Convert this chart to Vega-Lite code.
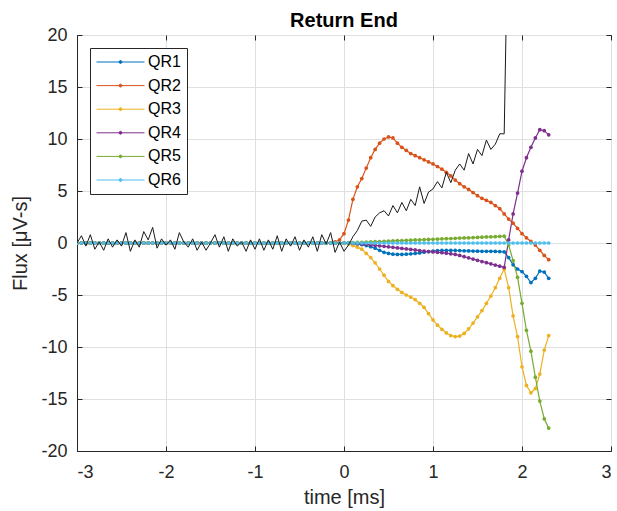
{
  "$schema": "https://vega.github.io/schema/vega-lite/v6.json",
  "width": 534,
  "height": 416,
  "autosize": {"type": "none"},
  "padding": {"left": 77, "top": 35, "right": 6, "bottom": 60},
  "background": "white",
  "title": {"text": "Return End", "fontSize": 20, "fontWeight": "bold", "font": "Liberation Sans", "color": "#000000", "offset": 0, "dy": 21, "baseline": "alphabetic"},
  "data": {"values": [
    {"t": -3.00, "QR1": 0, "QR2": 0, "QR3": 0, "QR4": 0, "QR5": 0, "QR6": 0, "ref": 0.0},
    {"t": -2.95, "QR1": 0, "QR2": 0, "QR3": 0, "QR4": 0, "QR5": 0, "QR6": 0, "ref": 0.7},
    {"t": -2.90, "QR1": 0, "QR2": 0, "QR3": 0, "QR4": 0, "QR5": 0, "QR6": 0, "ref": -0.3},
    {"t": -2.85, "QR1": 0, "QR2": 0, "QR3": 0, "QR4": 0, "QR5": 0, "QR6": 0, "ref": 0.8},
    {"t": -2.80, "QR1": 0, "QR2": 0, "QR3": 0, "QR4": 0, "QR5": 0, "QR6": 0, "ref": -0.6},
    {"t": -2.75, "QR1": 0, "QR2": 0, "QR3": 0, "QR4": 0, "QR5": 0, "QR6": 0, "ref": 0.1},
    {"t": -2.70, "QR1": 0, "QR2": 0, "QR3": 0, "QR4": 0, "QR5": 0, "QR6": 0, "ref": -0.7},
    {"t": -2.65, "QR1": 0, "QR2": 0, "QR3": 0, "QR4": 0, "QR5": 0, "QR6": 0, "ref": 0.4},
    {"t": -2.60, "QR1": 0, "QR2": 0, "QR3": 0, "QR4": 0, "QR5": 0, "QR6": 0, "ref": -0.4},
    {"t": -2.55, "QR1": 0, "QR2": 0, "QR3": 0, "QR4": 0, "QR5": 0, "QR6": 0, "ref": 0.3},
    {"t": -2.50, "QR1": 0, "QR2": 0, "QR3": 0, "QR4": 0, "QR5": 0, "QR6": 0, "ref": -0.3},
    {"t": -2.45, "QR1": 0, "QR2": 0, "QR3": 0, "QR4": 0, "QR5": 0, "QR6": 0, "ref": 1.0},
    {"t": -2.40, "QR1": 0, "QR2": 0, "QR3": 0, "QR4": 0, "QR5": 0, "QR6": 0, "ref": -0.8},
    {"t": -2.35, "QR1": 0, "QR2": 0, "QR3": 0, "QR4": 0, "QR5": 0, "QR6": 0, "ref": 0.3},
    {"t": -2.30, "QR1": 0, "QR2": 0, "QR3": 0, "QR4": 0, "QR5": 0, "QR6": 0, "ref": -0.4},
    {"t": -2.25, "QR1": 0, "QR2": 0, "QR3": 0, "QR4": 0, "QR5": 0, "QR6": 0, "ref": 1.1},
    {"t": -2.20, "QR1": 0, "QR2": 0, "QR3": 0, "QR4": 0, "QR5": 0, "QR6": 0, "ref": 0.3},
    {"t": -2.15, "QR1": 0, "QR2": 0, "QR3": 0, "QR4": 0, "QR5": 0, "QR6": 0, "ref": 1.5},
    {"t": -2.10, "QR1": 0, "QR2": 0, "QR3": 0, "QR4": 0, "QR5": 0, "QR6": 0, "ref": -0.5},
    {"t": -2.05, "QR1": 0, "QR2": 0, "QR3": 0, "QR4": 0, "QR5": 0, "QR6": 0, "ref": 0.4},
    {"t": -2.00, "QR1": 0, "QR2": 0, "QR3": 0, "QR4": 0, "QR5": 0, "QR6": 0, "ref": -0.2},
    {"t": -1.95, "QR1": 0, "QR2": 0, "QR3": 0, "QR4": 0, "QR5": 0, "QR6": 0, "ref": 0.3},
    {"t": -1.90, "QR1": 0, "QR2": 0, "QR3": 0, "QR4": 0, "QR5": 0, "QR6": 0, "ref": -0.6},
    {"t": -1.85, "QR1": 0, "QR2": 0, "QR3": 0, "QR4": 0, "QR5": 0, "QR6": 0, "ref": 1.0},
    {"t": -1.80, "QR1": 0, "QR2": 0, "QR3": 0, "QR4": 0, "QR5": 0, "QR6": 0, "ref": 0.1},
    {"t": -1.75, "QR1": 0, "QR2": 0, "QR3": 0, "QR4": 0, "QR5": 0, "QR6": 0, "ref": -0.4},
    {"t": -1.70, "QR1": 0, "QR2": 0, "QR3": 0, "QR4": 0, "QR5": 0, "QR6": 0, "ref": 0.4},
    {"t": -1.65, "QR1": 0, "QR2": 0, "QR3": 0, "QR4": 0, "QR5": 0, "QR6": 0, "ref": -0.7},
    {"t": -1.60, "QR1": 0, "QR2": 0, "QR3": 0, "QR4": 0, "QR5": 0, "QR6": 0, "ref": 0.1},
    {"t": -1.55, "QR1": 0, "QR2": 0, "QR3": 0, "QR4": 0, "QR5": 0, "QR6": 0, "ref": -0.7},
    {"t": -1.50, "QR1": 0, "QR2": 0, "QR3": 0, "QR4": 0, "QR5": 0, "QR6": 0, "ref": 0.0},
    {"t": -1.45, "QR1": 0, "QR2": 0, "QR3": 0, "QR4": 0, "QR5": 0, "QR6": 0, "ref": 0.8},
    {"t": -1.40, "QR1": 0, "QR2": 0, "QR3": 0, "QR4": 0, "QR5": 0, "QR6": 0, "ref": -0.4},
    {"t": -1.35, "QR1": 0, "QR2": 0, "QR3": 0, "QR4": 0, "QR5": 0, "QR6": 0, "ref": 0.6},
    {"t": -1.30, "QR1": 0, "QR2": 0, "QR3": 0, "QR4": 0, "QR5": 0, "QR6": 0, "ref": -0.8},
    {"t": -1.25, "QR1": 0, "QR2": 0, "QR3": 0, "QR4": 0, "QR5": 0, "QR6": 0, "ref": 0.4},
    {"t": -1.20, "QR1": 0, "QR2": 0, "QR3": 0, "QR4": 0, "QR5": 0, "QR6": 0, "ref": -0.3},
    {"t": -1.15, "QR1": 0, "QR2": 0, "QR3": 0, "QR4": 0, "QR5": 0, "QR6": 0, "ref": 0.1},
    {"t": -1.10, "QR1": 0, "QR2": 0, "QR3": 0, "QR4": 0, "QR5": 0, "QR6": 0, "ref": -0.8},
    {"t": -1.05, "QR1": 0, "QR2": 0, "QR3": 0, "QR4": 0, "QR5": 0, "QR6": 0, "ref": 0.3},
    {"t": -1.00, "QR1": 0, "QR2": 0, "QR3": 0, "QR4": 0, "QR5": 0, "QR6": 0, "ref": -0.6},
    {"t": -0.95, "QR1": 0, "QR2": 0, "QR3": 0, "QR4": 0, "QR5": 0, "QR6": 0, "ref": 0.4},
    {"t": -0.90, "QR1": 0, "QR2": 0, "QR3": 0, "QR4": 0, "QR5": 0, "QR6": 0, "ref": -0.7},
    {"t": -0.85, "QR1": 0, "QR2": 0, "QR3": 0, "QR4": 0, "QR5": 0, "QR6": 0, "ref": 0.3},
    {"t": -0.80, "QR1": 0, "QR2": 0, "QR3": 0, "QR4": 0, "QR5": 0, "QR6": 0, "ref": -0.6},
    {"t": -0.75, "QR1": 0, "QR2": 0, "QR3": 0, "QR4": 0, "QR5": 0, "QR6": 0, "ref": 0.7},
    {"t": -0.70, "QR1": 0, "QR2": 0, "QR3": 0, "QR4": 0, "QR5": 0, "QR6": 0, "ref": -0.8},
    {"t": -0.65, "QR1": 0, "QR2": 0, "QR3": 0, "QR4": 0, "QR5": 0, "QR6": 0, "ref": 0.4},
    {"t": -0.60, "QR1": 0, "QR2": 0, "QR3": 0, "QR4": 0, "QR5": 0, "QR6": 0, "ref": -0.3},
    {"t": -0.55, "QR1": 0, "QR2": 0, "QR3": 0, "QR4": 0, "QR5": 0, "QR6": 0, "ref": 0.6},
    {"t": -0.50, "QR1": 0, "QR2": 0, "QR3": 0, "QR4": 0, "QR5": 0, "QR6": 0, "ref": -0.7},
    {"t": -0.45, "QR1": 0, "QR2": 0, "QR3": 0, "QR4": 0, "QR5": 0, "QR6": 0, "ref": 0.3},
    {"t": -0.40, "QR1": 0, "QR2": 0, "QR3": 0, "QR4": 0, "QR5": 0, "QR6": 0, "ref": -0.4},
    {"t": -0.35, "QR1": 0, "QR2": 0, "QR3": 0, "QR4": 0, "QR5": 0, "QR6": 0, "ref": 0.6},
    {"t": -0.30, "QR1": 0, "QR2": 0, "QR3": 0, "QR4": 0, "QR5": 0, "QR6": 0, "ref": -0.8},
    {"t": -0.25, "QR1": 0, "QR2": 0, "QR3": 0, "QR4": 0, "QR5": 0, "QR6": 0, "ref": 0.8},
    {"t": -0.20, "QR1": 0, "QR2": 0, "QR3": 0, "QR4": 0, "QR5": 0, "QR6": 0, "ref": -0.1},
    {"t": -0.15, "QR1": 0, "QR2": 0, "QR3": 0, "QR4": 0, "QR5": 0, "QR6": 0, "ref": 1.0},
    {"t": -0.10, "QR1": 0, "QR2": 0.1, "QR3": 0, "QR4": 0, "QR5": 0, "QR6": 0, "ref": -0.9},
    {"t": -0.05, "QR1": 0, "QR2": 0.3, "QR3": 0, "QR4": 0, "QR5": 0, "QR6": 0, "ref": 0.1},
    {"t": 0.00, "QR1": 0, "QR2": 0.9, "QR3": 0, "QR4": 0, "QR5": 0, "QR6": 0, "ref": -0.8},
    {"t": 0.05, "QR1": -0.02, "QR2": 2.2, "QR3": -0.1, "QR4": 0, "QR5": 0.02, "QR6": 0, "ref": -0.2},
    {"t": 0.10, "QR1": -0.05, "QR2": 4.2, "QR3": -0.25, "QR4": -0.02, "QR5": 0.04, "QR6": 0, "ref": 0.6},
    {"t": 0.15, "QR1": -0.1, "QR2": 5.4, "QR3": -0.4, "QR4": -0.05, "QR5": 0.05, "QR6": 0, "ref": 1.2},
    {"t": 0.20, "QR1": -0.15, "QR2": 6.2, "QR3": -0.6, "QR4": -0.1, "QR5": 0.07, "QR6": 0, "ref": 2.1},
    {"t": 0.25, "QR1": -0.25, "QR2": 7.2, "QR3": -1.0, "QR4": -0.14, "QR5": 0.09, "QR6": 0, "ref": 2.2},
    {"t": 0.30, "QR1": -0.35, "QR2": 8.2, "QR3": -1.4, "QR4": -0.18, "QR5": 0.11, "QR6": 0, "ref": 1.6},
    {"t": 0.35, "QR1": -0.5, "QR2": 9.0, "QR3": -1.9, "QR4": -0.22, "QR5": 0.13, "QR6": 0, "ref": 2.5},
    {"t": 0.40, "QR1": -0.7, "QR2": 9.6, "QR3": -2.5, "QR4": -0.27, "QR5": 0.14, "QR6": 0, "ref": 2.9},
    {"t": 0.45, "QR1": -0.9, "QR2": 10.0, "QR3": -3.1, "QR4": -0.32, "QR5": 0.16, "QR6": 0, "ref": 3.1},
    {"t": 0.50, "QR1": -1.0, "QR2": 10.2, "QR3": -3.7, "QR4": -0.37, "QR5": 0.18, "QR6": 0, "ref": 2.6},
    {"t": 0.55, "QR1": -1.07, "QR2": 10.1, "QR3": -4.1, "QR4": -0.42, "QR5": 0.2, "QR6": 0, "ref": 3.6},
    {"t": 0.60, "QR1": -1.1, "QR2": 9.6, "QR3": -4.45, "QR4": -0.47, "QR5": 0.22, "QR6": 0, "ref": 2.9},
    {"t": 0.65, "QR1": -1.1, "QR2": 9.2, "QR3": -4.75, "QR4": -0.52, "QR5": 0.23, "QR6": 0, "ref": 3.9},
    {"t": 0.70, "QR1": -1.08, "QR2": 8.9, "QR3": -5.0, "QR4": -0.57, "QR5": 0.25, "QR6": 0, "ref": 3.1},
    {"t": 0.75, "QR1": -1.04, "QR2": 8.6, "QR3": -5.2, "QR4": -0.62, "QR5": 0.27, "QR6": 0, "ref": 4.2},
    {"t": 0.80, "QR1": -1.0, "QR2": 8.4, "QR3": -5.45, "QR4": -0.67, "QR5": 0.29, "QR6": 0, "ref": 3.6},
    {"t": 0.85, "QR1": -0.95, "QR2": 8.2, "QR3": -5.8, "QR4": -0.73, "QR5": 0.31, "QR6": 0, "ref": 5.4},
    {"t": 0.90, "QR1": -0.88, "QR2": 8.0, "QR3": -6.2, "QR4": -0.78, "QR5": 0.32, "QR6": 0, "ref": 3.8},
    {"t": 0.95, "QR1": -0.82, "QR2": 7.8, "QR3": -6.8, "QR4": -0.82, "QR5": 0.34, "QR6": 0, "ref": 4.9},
    {"t": 1.00, "QR1": -0.78, "QR2": 7.6, "QR3": -7.4, "QR4": -0.86, "QR5": 0.36, "QR6": 0, "ref": 5.2},
    {"t": 1.05, "QR1": -0.74, "QR2": 7.35, "QR3": -7.9, "QR4": -0.89, "QR5": 0.38, "QR6": 0, "ref": 5.9},
    {"t": 1.10, "QR1": -0.72, "QR2": 7.1, "QR3": -8.3, "QR4": -0.93, "QR5": 0.4, "QR6": 0, "ref": 5.3},
    {"t": 1.15, "QR1": -0.71, "QR2": 6.8, "QR3": -8.65, "QR4": -0.98, "QR5": 0.41, "QR6": 0, "ref": 6.8},
    {"t": 1.20, "QR1": -0.71, "QR2": 6.45, "QR3": -8.9, "QR4": -1.04, "QR5": 0.43, "QR6": 0, "ref": 5.8},
    {"t": 1.25, "QR1": -0.72, "QR2": 6.05, "QR3": -9.0, "QR4": -1.1, "QR5": 0.45, "QR6": 0, "ref": 7.0},
    {"t": 1.30, "QR1": -0.73, "QR2": 5.7, "QR3": -8.95, "QR4": -1.2, "QR5": 0.47, "QR6": 0, "ref": 7.6},
    {"t": 1.35, "QR1": -0.75, "QR2": 5.4, "QR3": -8.7, "QR4": -1.32, "QR5": 0.49, "QR6": 0, "ref": 7.0},
    {"t": 1.40, "QR1": -0.76, "QR2": 5.15, "QR3": -8.25, "QR4": -1.43, "QR5": 0.5, "QR6": 0, "ref": 8.6},
    {"t": 1.45, "QR1": -0.78, "QR2": 4.85, "QR3": -7.7, "QR4": -1.55, "QR5": 0.52, "QR6": 0, "ref": 7.6},
    {"t": 1.50, "QR1": -0.79, "QR2": 4.55, "QR3": -7.1, "QR4": -1.66, "QR5": 0.54, "QR6": 0, "ref": 9.0},
    {"t": 1.55, "QR1": -0.8, "QR2": 4.3, "QR3": -6.5, "QR4": -1.78, "QR5": 0.56, "QR6": 0, "ref": 8.4},
    {"t": 1.60, "QR1": -0.8, "QR2": 4.1, "QR3": -5.8, "QR4": -1.89, "QR5": 0.58, "QR6": 0, "ref": 9.9},
    {"t": 1.65, "QR1": -0.8, "QR2": 3.9, "QR3": -5.1, "QR4": -2.0, "QR5": 0.59, "QR6": 0, "ref": 9.0},
    {"t": 1.70, "QR1": -0.81, "QR2": 3.6, "QR3": -4.3, "QR4": -2.12, "QR5": 0.61, "QR6": 0, "ref": 9.5},
    {"t": 1.75, "QR1": -0.82, "QR2": 3.3, "QR3": -3.4, "QR4": -2.23, "QR5": 0.63, "QR6": 0, "ref": 10.5},
    {"t": 1.80, "QR1": -0.85, "QR2": 2.8, "QR3": -2.5, "QR4": -2.35, "QR5": 0.65, "QR6": 0, "ref": 10.5},
    {"t": 1.82, "ref": 20.3},
    {"t": 1.85, "QR1": -1.4, "QR2": 2.3, "QR3": -4.3, "QR4": 0.3, "QR5": -0.2, "QR6": 0},
    {"t": 1.90, "QR1": -2.1, "QR2": 1.9, "QR3": -7.0, "QR4": 2.8, "QR5": -1.7, "QR6": 0},
    {"t": 1.95, "QR1": -2.5, "QR2": 1.4, "QR3": -9.0, "QR4": 4.8, "QR5": -3.3, "QR6": 0},
    {"t": 2.00, "QR1": -2.75, "QR2": 0.9, "QR3": -11.9, "QR4": 6.9, "QR5": -5.8, "QR6": 0},
    {"t": 2.05, "QR1": -3.2, "QR2": 0.5, "QR3": -13.7, "QR4": 8.2, "QR5": -8.4, "QR6": 0},
    {"t": 2.10, "QR1": -3.8, "QR2": 0.15, "QR3": -14.4, "QR4": 9.2, "QR5": -10.4, "QR6": 0},
    {"t": 2.15, "QR1": -3.4, "QR2": -0.2, "QR3": -14.0, "QR4": 10.1, "QR5": -12.9, "QR6": 0},
    {"t": 2.20, "QR1": -2.7, "QR2": -0.7, "QR3": -12.6, "QR4": 10.9, "QR5": -15.2, "QR6": 0},
    {"t": 2.25, "QR1": -2.8, "QR2": -1.2, "QR3": -10.3, "QR4": 10.8, "QR5": -16.9, "QR6": 0},
    {"t": 2.30, "QR1": -3.4, "QR2": -1.6, "QR3": -8.9, "QR4": 10.4, "QR5": -17.8, "QR6": 0}
  ]},
  "config": {
    "view": {"stroke": "#262626", "strokeWidth": 1},
    "axis": {
      "grid": true,
      "gridColor": "#dfdfdf",
      "gridWidth": 1,
      "domainColor": "#262626",
      "tickColor": "#262626",
      "labelColor": "#262626",
      "titleColor": "#262626",
      "labelFont": "Liberation Sans",
      "titleFont": "Liberation Sans",
      "labelFontSize": 18,
      "titleFontSize": 20,
      "titleFontWeight": "normal",
      "tickSize": -5
    }
  },
  "layer": [
    {
      "transform": [
        {"fold": ["QR1", "QR2", "QR3", "QR4", "QR5", "QR6"], "as": ["series", "value"]},
        {"filter": "isValid(datum.value)"}
      ],
      "mark": {"type": "line", "strokeWidth": 1.2, "clip": true, "point": {"filled": true, "size": 14}},
      "encoding": {
        "x": {
          "field": "t", "type": "quantitative",
          "scale": {"domain": [-3, 3], "nice": false, "zero": false},
          "axis": {"orient": "bottom", "values": [-3, -2, -1, 0, 1, 2, 3], "labelExpr": "'' + datum.value", "title": "time [ms]", "labelPadding": 17, "titlePadding": 6}
        },
        "y": {
          "field": "value", "type": "quantitative",
          "scale": {"domain": [-20, 20], "nice": false, "zero": false},
          "axis": {"orient": "left", "values": [-20, -15, -10, -5, 0, 5, 10, 15, 20], "labelExpr": "'' + datum.value", "title": "Flux [μV-s]", "labelPadding": 15, "titlePadding": 10}
        },
        "color": {
          "field": "series", "type": "nominal",
          "scale": {"domain": ["QR1", "QR2", "QR3", "QR4", "QR5", "QR6"], "range": ["#0072BD", "#D95319", "#EDB120", "#7E2F8E", "#77AC30", "#4DBEEE"]},
          "legend": {
            "title": null,
            "orient": "top-left",
            "offset": 13,
            "strokeColor": "#262626",
            "fillColor": "white",
            "padding": 6,
            "symbolType": "M-1,0H1M-0.06,0A0.06,0.06 0 1,1 0.06,0A0.06,0.06 0 1,1 -0.06,0",
            "symbolSize": 2304,
            "symbolStrokeWidth": 1,
            "clipHeight": 16,
            "labelFont": "Liberation Sans",
            "labelFontSize": 16,
            "labelColor": "#000000",
            "labelOffset": 3,
            "rowPadding": 7.6,
            "encode": {"symbols": {"update": {"stroke": {"scale": "color", "field": "value"}, "fill": {"scale": "color", "field": "value"}, "opacity": {"value": 1}}}}
          }
        }
      }
    },
    {
      "mark": {"type": "line", "color": "#1a1a1a", "strokeWidth": 1, "clip": true},
      "encoding": {
        "x": {
          "field": "t", "type": "quantitative",
          "scale": {"domain": [-3, 3], "nice": false, "zero": false},
          "axis": {"orient": "top", "values": [-3, -2, -1, 0, 1, 2, 3], "labels": false, "title": null, "grid": false, "domain": false, "minExtent": 0, "maxExtent": 0}
        },
        "y": {
          "field": "ref", "type": "quantitative",
          "scale": {"domain": [-20, 20], "nice": false, "zero": false},
          "axis": {"orient": "right", "values": [-20, -15, -10, -5, 0, 5, 10, 15, 20], "labels": false, "title": null, "grid": false, "domain": false, "minExtent": 0, "maxExtent": 0}
        }
      }
    }
  ],
  "resolve": {"axis": {"x": "independent", "y": "independent"}}
}
